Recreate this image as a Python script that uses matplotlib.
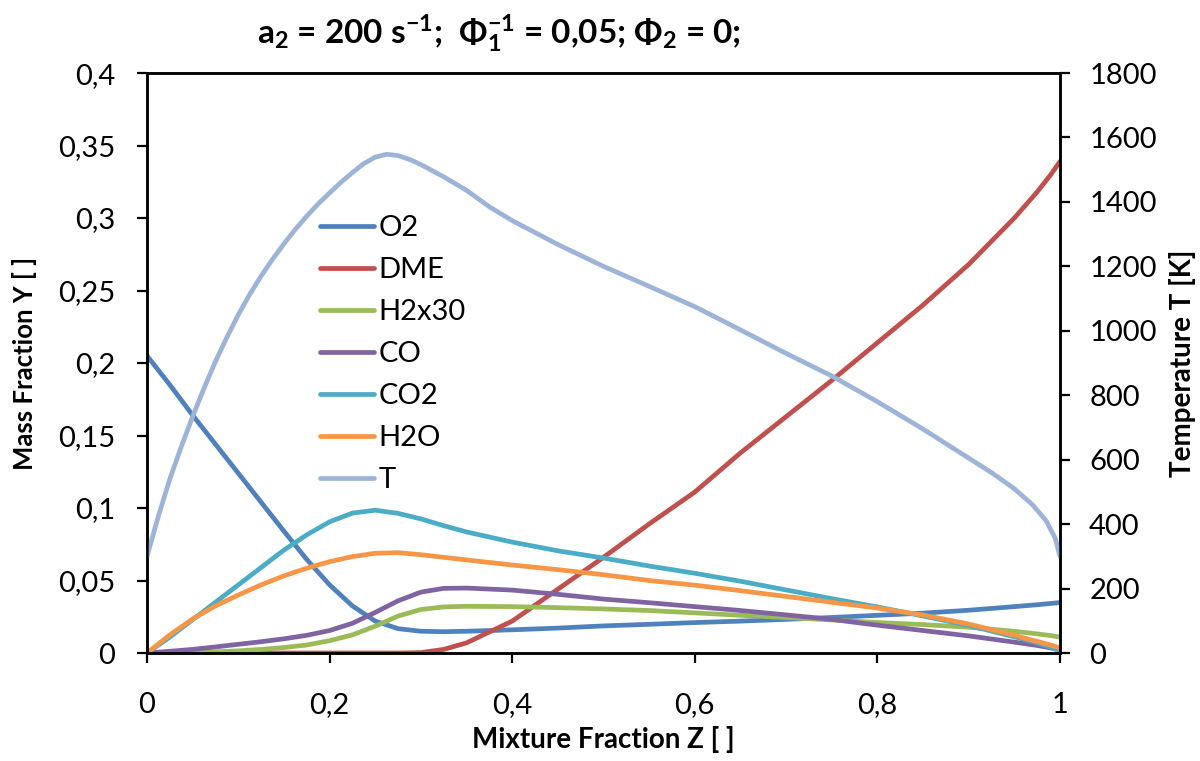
import matplotlib
matplotlib.use("Agg")
import matplotlib.pyplot as plt
from matplotlib.ticker import FuncFormatter, MultipleLocator

plt.rcParams['font.family'] = ['Lato', 'DejaVu Sans']
plt.rcParams['mathtext.fontset'] = 'custom'
plt.rcParams['mathtext.rm'] = 'Lato:bold'
plt.rcParams['mathtext.bf'] = 'Lato:bold'
plt.rcParams['mathtext.it'] = 'Lato:bold'

# mixture fraction grid for the species
z = [0, 0.025, 0.05, 0.075, 0.1, 0.125, 0.15, 0.175, 0.2, 0.225, 0.25, 0.275,
     0.3, 0.325, 0.35, 0.4, 0.45, 0.5, 0.55, 0.6, 0.65, 0.7, 0.75, 0.8, 0.85,
     0.9, 0.95, 0.975, 0.99, 1.0]

y_o2 = [0.205, 0.185, 0.164, 0.144, 0.124, 0.104, 0.084, 0.0645, 0.047, 0.0325,
        0.022, 0.0168, 0.015, 0.0147, 0.015, 0.016, 0.0172, 0.0187, 0.0198,
        0.021, 0.022, 0.0232, 0.0245, 0.026, 0.0275, 0.0295, 0.032, 0.0333,
        0.0342, 0.0348]
y_dme = [0, 0, 0, 0, 0, 0, 0, 0, 0, 0, 0, 0, 0.0003, 0.0025, 0.007, 0.022,
         0.044, 0.066, 0.089, 0.111, 0.138, 0.163, 0.188, 0.214, 0.240, 0.268,
         0.300, 0.318, 0.330, 0.339]
y_h2x30 = [0, 0.0002, 0.0004, 0.0008, 0.0015, 0.0025, 0.0038, 0.0055, 0.0085,
           0.0125, 0.0185, 0.0255, 0.030, 0.0318, 0.0322, 0.032, 0.0313,
           0.0304, 0.0293, 0.0277, 0.026, 0.0245, 0.0228, 0.021, 0.0196,
           0.0178, 0.015, 0.0132, 0.012, 0.011]
y_co = [0, 0.0012, 0.0025, 0.0042, 0.006, 0.0078, 0.0098, 0.0122, 0.0155,
        0.0205, 0.028, 0.036, 0.042, 0.0446, 0.0448, 0.0434, 0.0405, 0.0372,
        0.0347, 0.032, 0.0293, 0.0263, 0.0232, 0.0192, 0.0155, 0.0118, 0.0075,
        0.0052, 0.0035, 0.002]
y_co2 = [0, 0.011, 0.023, 0.035, 0.047, 0.059, 0.071, 0.0815, 0.0905, 0.0965,
         0.0985, 0.0963, 0.0925, 0.0878, 0.0835, 0.0765, 0.0705, 0.0655, 0.060,
         0.055, 0.0495, 0.0435, 0.0375, 0.0318, 0.0255, 0.019, 0.0112, 0.007,
         0.004, 0.0015]
y_h2o = [0, 0.0125, 0.0235, 0.0325, 0.040, 0.047, 0.0532, 0.0585, 0.063,
         0.0665, 0.0688, 0.0692, 0.0678, 0.066, 0.0642, 0.0607, 0.0575, 0.054,
         0.050, 0.0468, 0.043, 0.039, 0.035, 0.031, 0.0262, 0.020, 0.0122,
         0.008, 0.0055, 0.0035]

# temperature is steeper near the oxidiser side, so it gets its own grid
z_t = [0, 0.0125, 0.025, 0.0375, 0.05, 0.0625, 0.075, 0.0875, 0.1, 0.1125,
       0.125, 0.1375, 0.15, 0.1625, 0.175, 0.1875, 0.2, 0.2125, 0.225, 0.2375,
       0.25, 0.2625, 0.275, 0.2875, 0.3, 0.325, 0.35, 0.375, 0.4, 0.45, 0.5,
       0.55, 0.6, 0.65, 0.7, 0.75, 0.8, 0.85, 0.9, 0.925, 0.95, 0.97, 0.985,
       0.995, 1.0]
temp = [300, 425, 540, 640, 734, 822, 905, 980, 1050, 1113, 1170, 1222, 1270,
        1315, 1356, 1394, 1428, 1461, 1491, 1519, 1539, 1548, 1544, 1532, 1516,
        1478, 1436, 1385, 1342, 1268, 1200, 1138, 1075, 1003, 930, 860, 780,
        695, 605, 560, 510, 460, 410, 355, 300]

species = [
    ("O2", y_o2, "#4F81BD"),
    ("DME", y_dme, "#C0504D"),
    ("H2x30", y_h2x30, "#9BBB59"),
    ("CO", y_co, "#8064A2"),
    ("CO2", y_co2, "#4BACC6"),
    ("H2O", y_h2o, "#F79646"),
]

comma = FuncFormatter(lambda v, p: ('%g' % round(v, 4)).replace('.', ','))

fig = plt.figure(figsize=(12, 7.61), dpi=100)
ax = fig.add_axes([0.1225, 0.1419, 0.7608, 0.7621])
ax2 = ax.twinx()

lines = []
for name, vals, col in species:
    ln, = ax.plot(z, vals, color=col, lw=3.4, label=name,
                  solid_capstyle='round', solid_joinstyle='round')
    lines.append(ln)
lt, = ax2.plot(z_t, temp, color="#9DB4D8", lw=3.4, label="T",
               solid_capstyle='round', solid_joinstyle='round')
lines.append(lt)

ax.set_xlim(0, 1)
ax.set_ylim(0, 0.4)
ax2.set_ylim(0, 1800)
ax.xaxis.set_major_locator(MultipleLocator(0.2))
ax.yaxis.set_major_locator(MultipleLocator(0.05))
ax2.yaxis.set_major_locator(MultipleLocator(200))
ax.xaxis.set_major_formatter(comma)
ax.yaxis.set_major_formatter(comma)

for a in (ax, ax2):
    for s in a.spines.values():
        s.set_linewidth(1.8)
ax.tick_params(axis='x', direction='out', length=7, width=1.6, labelsize=21, pad=21)
ax.tick_params(axis='y', direction='out', length=7, width=1.6, labelsize=21, pad=16)
ax2.tick_params(axis='y', direction='out', length=7, width=1.6, labelsize=21, pad=14)

ax.set_xlabel("Mixture Fraction Z [ ]", fontsize=20, fontweight='bold', labelpad=6)
ax.set_ylabel("Mass Fraction Y [ ]", fontsize=18.5, fontweight='bold', labelpad=15)
ax2.set_ylabel("Temperature T [K]", fontsize=20, fontweight='bold', labelpad=9)

fig.text(0.416, 0.955,
         r"a$_2$ = 200 s$^{-1}$;  Φ$_1^{-1}$ = 0,05; Φ$_2$ = 0;",
         fontsize=24, fontweight='bold', ha='center', va='center')

ax.legend(lines, [l.get_label() for l in lines], loc='upper left',
          bbox_to_anchor=(0.19, 0.755), frameon=False, fontsize=21,
          handlelength=1.85, handletextpad=0.15, labelspacing=0.55,
          borderpad=0, borderaxespad=0)

fig.savefig("out.png", dpi=100)
